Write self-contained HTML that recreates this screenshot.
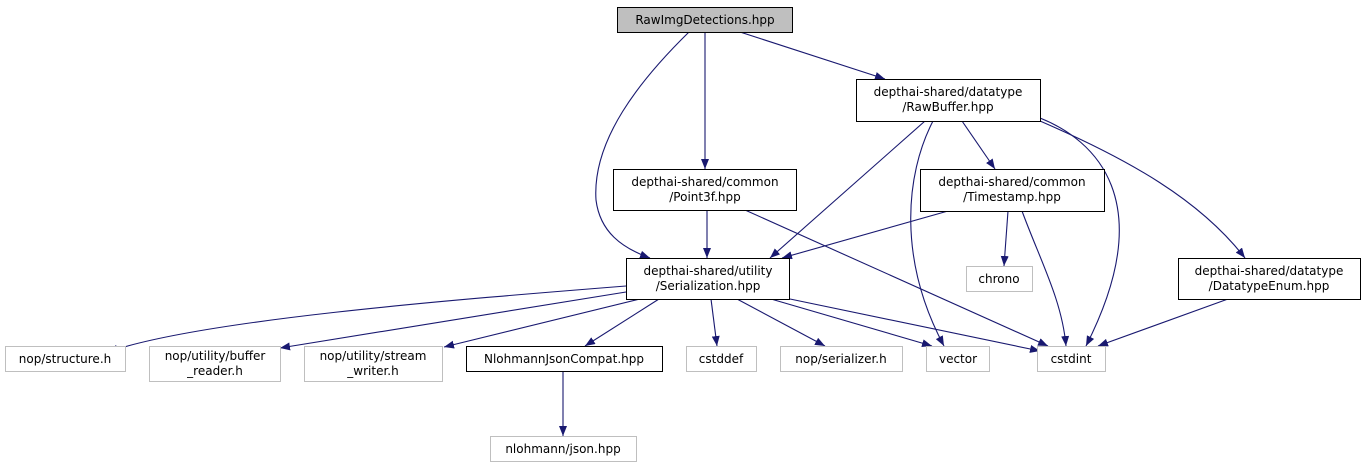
<!DOCTYPE html>
<html><head><meta charset="utf-8"><style>
html,body{margin:0;padding:0;background:#fff;width:1366px;height:469px;overflow:hidden}
svg text{font-family:"DejaVu Sans","Liberation Sans",sans-serif;font-size:12px;fill:#000}
</style></head><body>
<svg width="1366" height="469" viewBox="0 0 1366 469" xmlns="http://www.w3.org/2000/svg">
<defs><marker id="a" viewBox="0 0 10 8" refX="10" refY="4" markerWidth="10" markerHeight="8" markerUnits="userSpaceOnUse" orient="auto"><path d="M0,0L10,4L0,8z" fill="#191970"/></marker></defs>
<g fill="none" stroke="#191970" stroke-width="1.1" marker-end="url(#a)">
<path d="M689,32 C640,80 592,140 596,200 C600,232 622,248 650,258"/>
<path d="M705,32 L705,169"/>
<path d="M740,32 L885,79"/>
<path d="M925,121 L770,258"/>
<path d="M933,121 C905,175 898,260 944,346"/>
<path d="M962,121 L995,169"/>
<path d="M1040,118 C1095,140 1160,200 1086,346"/>
<path d="M1040,121 C1130,160 1200,200 1245,258"/>
<path d="M707,210 L707,258"/>
<path d="M745,210 L1048,346"/>
<path d="M948,211 L782,258"/>
<path d="M1008,211 L1004,266"/>
<path d="M1022,211 C1040,260 1062,300 1066,346"/>
<path d="M1228,299 L1098,346"/>
<path d="M626,286 C450,300 200,320 108,352"/>
<path d="M626,292 L280,348"/>
<path d="M640,299 L444,347"/>
<path d="M659,299 L585,346"/>
<path d="M711,299 L717,346"/>
<path d="M737,299 L825,346"/>
<path d="M771,299 L932,346"/>
<path d="M790,299 L1040,351"/>
<path d="M563,371 L563,436"/>
</g>
<g stroke-width="1">
<rect x="617.5" y="7.5" width="175" height="25" fill="#bfbfbf" stroke="#000"/>
<rect x="856.5" y="79.5" width="184" height="42" fill="#fff" stroke="#000"/>
<rect x="613.5" y="169.5" width="183" height="41" fill="#fff" stroke="#000"/>
<rect x="920.5" y="169.5" width="184" height="42" fill="#fff" stroke="#000"/>
<rect x="626.5" y="258.5" width="163" height="41" fill="#fff" stroke="#000"/>
<rect x="966.5" y="266.5" width="66" height="25" fill="#fff" stroke="#bfbfbf"/>
<rect x="1178.5" y="258.5" width="182" height="41" fill="#fff" stroke="#000"/>
<rect x="5.5" y="346.5" width="120" height="25" fill="#fff" stroke="#bfbfbf"/>
<rect x="149.5" y="346.5" width="131" height="35" fill="#fff" stroke="#bfbfbf"/>
<rect x="304.5" y="346.5" width="138" height="35" fill="#fff" stroke="#bfbfbf"/>
<rect x="466.5" y="346.5" width="196" height="25" fill="#fff" stroke="#000"/>
<rect x="686.5" y="346.5" width="70" height="25" fill="#fff" stroke="#bfbfbf"/>
<rect x="780.5" y="346.5" width="122" height="25" fill="#fff" stroke="#bfbfbf"/>
<rect x="926.5" y="346.5" width="63" height="25" fill="#fff" stroke="#bfbfbf"/>
<rect x="1037.5" y="346.5" width="68" height="25" fill="#fff" stroke="#bfbfbf"/>
<rect x="490.5" y="436.5" width="146" height="25" fill="#fff" stroke="#bfbfbf"/>
</g>
<g text-anchor="middle">
<text x="705" y="24">RawImgDetections.hpp</text>
<text x="948" y="96">depthai-shared/datatype</text><text x="948" y="111">/RawBuffer.hpp</text>
<text x="705" y="186">depthai-shared/common</text><text x="705" y="201">/Point3f.hpp</text>
<text x="1012" y="186">depthai-shared/common</text><text x="1012" y="201">/Timestamp.hpp</text>
<text x="708" y="275">depthai-shared/utility</text><text x="708" y="290">/Serialization.hpp</text>
<text x="999" y="283">chrono</text>
<text x="1269" y="275">depthai-shared/datatype</text><text x="1269" y="290">/DatatypeEnum.hpp</text>
<text x="65" y="363">nop/structure.h</text>
<text x="215" y="360">nop/utility/buffer</text><text x="215" y="375">_reader.h</text>
<text x="373" y="360">nop/utility/stream</text><text x="373" y="375">_writer.h</text>
<text x="564" y="363">NlohmannJsonCompat.hpp</text>
<text x="721" y="363">cstddef</text>
<text x="841" y="363">nop/serializer.h</text>
<text x="958" y="363">vector</text>
<text x="1071" y="363">cstdint</text>
<text x="563" y="453">nlohmann/json.hpp</text>
</g>
</svg>
</body></html>
